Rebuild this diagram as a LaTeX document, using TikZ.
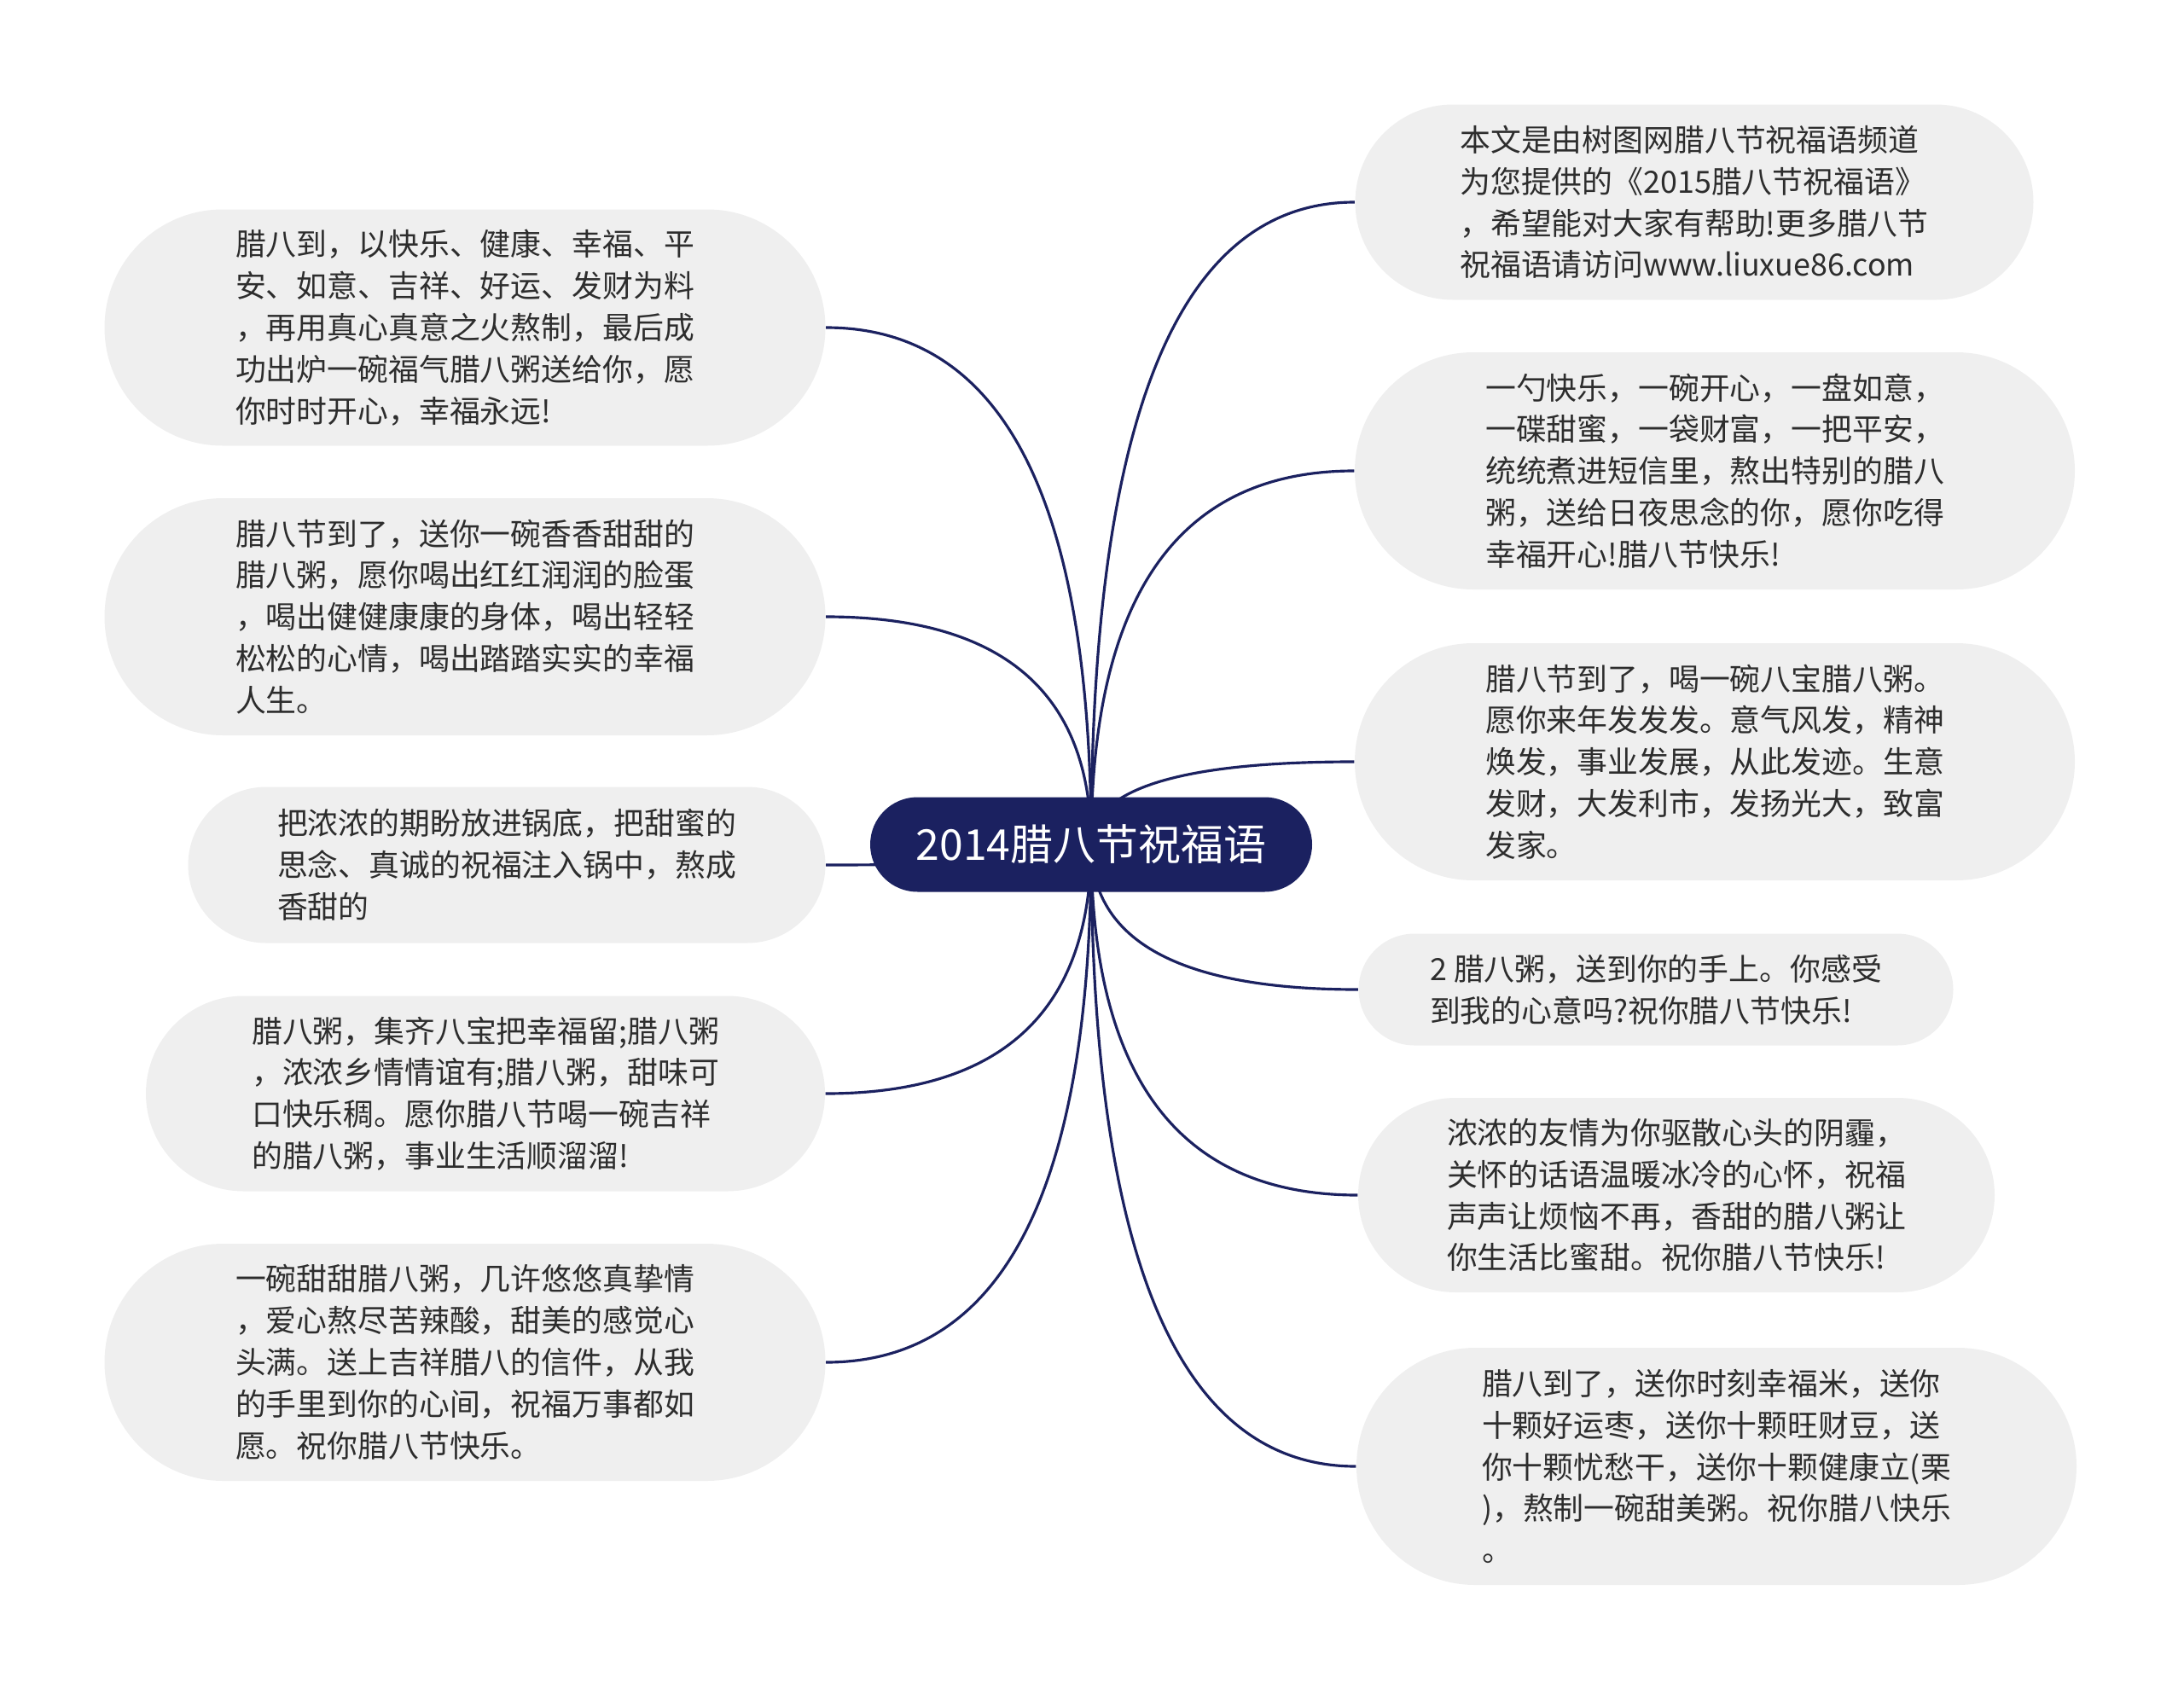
\documentclass[tikz,border=0pt]{standalone}
\usepackage{fontspec}
\newfontfamily\cjkfont{Noto Sans CJK SC}
\usetikzlibrary{shapes.misc, backgrounds, calc}

\definecolor{hubnavy}{RGB}{27,33,96}
\definecolor{leafgray}{RGB}{239,239,239}
\definecolor{leaftext}{RGB}{45,45,45}

\tikzset{
  leaf/.style={rounded rectangle, fill=leafgray, text=leaftext, align=left,
    inner sep=0pt, font=\cjkfont\fontsize{10.2pt}{13.9pt}\selectfont},
  hub/.style={rounded rectangle, fill=hubnavy, text=white, inner sep=0pt,
    minimum width=5.18cm, minimum height=1.11cm,
    font=\cjkfont\fontsize{14.2pt}{17pt}\selectfont},
  branch/.style={draw=hubnavy, line width=0.9pt},
}

% quadratic branch from the hub to one side of a leaf
\newcommand{\branchto}[1]{%
  \draw[branch] (root.center)
    .. controls ($(root.center)!0.667!(root.center |- #1)$)
    and ($(#1)!0.667!(root.center |- #1)$) .. (#1);}

\begin{document}
\begin{tikzpicture}

  \useasboundingbox (0,0) rectangle (25.6,-19.8);

  % -- Central topic --
  \node[hub] (root) at (12.79,-9.90) {2014腊八节祝福语};

  % -- Left leaves --
  \node[leaf, minimum width=8.45cm, minimum height=2.77cm] (l1) at (5.45,-3.84)
    {腊八到，以快乐、健康、幸福、平\\安、如意、吉祥、好运、发财为料\\，再用真心真意之火熬制，最后成\\功出炉一碗福气腊八粥送给你，愿\\你时时开心，幸福永远!};
  \node[leaf, minimum width=8.45cm, minimum height=2.78cm] (l2) at (5.45,-7.23)
    {腊八节到了，送你一碗香香甜甜的\\腊八粥，愿你喝出红红润润的脸蛋\\，喝出健健康康的身体，喝出轻轻\\松松的心情，喝出踏踏实实的幸福\\人生。};
  \node[leaf, minimum width=7.47cm, minimum height=1.83cm] (l3) at (5.94,-10.14)
    {把浓浓的期盼放进锅底，把甜蜜的\\思念、真诚的祝福注入锅中，熬成\\香甜的};
  \node[leaf, minimum width=7.96cm, minimum height=2.29cm] (l4) at (5.69,-12.82)
    {腊八粥，集齐八宝把幸福留;腊八粥\\，浓浓乡情情谊有;腊八粥，甜味可\\口快乐稠。愿你腊八节喝一碗吉祥\\的腊八粥，事业生活顺溜溜!};
  \node[leaf, minimum width=8.45cm, minimum height=2.78cm] (l5) at (5.45,-15.97)
    {一碗甜甜腊八粥，几许悠悠真挚情\\，爱心熬尽苦辣酸，甜美的感觉心\\头满。送上吉祥腊八的信件，从我\\的手里到你的心间，祝福万事都如\\愿。祝你腊八节快乐。};

  % -- Right leaves --
  \node[leaf, minimum width=7.95cm, minimum height=2.29cm] (r1) at (19.86,-2.37)
    {本文是由树图网腊八节祝福语频道\\为您提供的《2015腊八节祝福语》\\，希望能对大家有帮助!更多腊八节\\祝福语请访问www.liuxue86.com};
  \node[leaf, minimum width=8.44cm, minimum height=2.78cm] (r2) at (20.10,-5.52)
    {一勺快乐，一碗开心，一盘如意，\\一碟甜蜜，一袋财富，一把平安，\\统统煮进短信里，熬出特别的腊八\\粥，送给日夜思念的你，愿你吃得\\幸福开心!腊八节快乐!};
  \node[leaf, minimum width=8.44cm, minimum height=2.78cm] (r3) at (20.10,-8.93)
    {腊八节到了，喝一碗八宝腊八粥。\\愿你来年发发发。意气风发，精神\\焕发，事业发展，从此发迹。生意\\发财，大发利市，发扬光大，致富\\发家。};
  \node[leaf, minimum width=6.97cm, minimum height=1.31cm] (r4) at (19.41,-11.60)
    {2 腊八粥，送到你的手上。你感受\\到我的心意吗?祝你腊八节快乐!};
  \node[leaf, minimum width=7.46cm, minimum height=2.28cm] (r5) at (19.65,-14.01)
    {浓浓的友情为你驱散心头的阴霾，\\关怀的话语温暖冰冷的心怀，祝福\\声声让烦恼不再，香甜的腊八粥让\\你生活比蜜甜。祝你腊八节快乐!};
  \node[leaf, minimum width=8.44cm, minimum height=2.78cm] (r6) at (20.12,-17.19)
    {腊八到了，送你时刻幸福米，送你\\十颗好运枣，送你十颗旺财豆，送\\你十颗忧愁干，送你十颗健康立(栗\\)，熬制一碗甜美粥。祝你腊八快乐\\。};

  \begin{scope}[on background layer]
    % -- Branches to the left --
    \branchto{l1.east}
    \branchto{l2.east}
    \branchto{l3.east}
    \branchto{l4.east}
    \branchto{l5.east}

    % -- Branches to the right --
    \branchto{r1.west}
    \branchto{r2.west}
    \branchto{r3.west}
    \branchto{r4.west}
    \branchto{r5.west}
    \branchto{r6.west}
  \end{scope}

\end{tikzpicture}
\end{document}
